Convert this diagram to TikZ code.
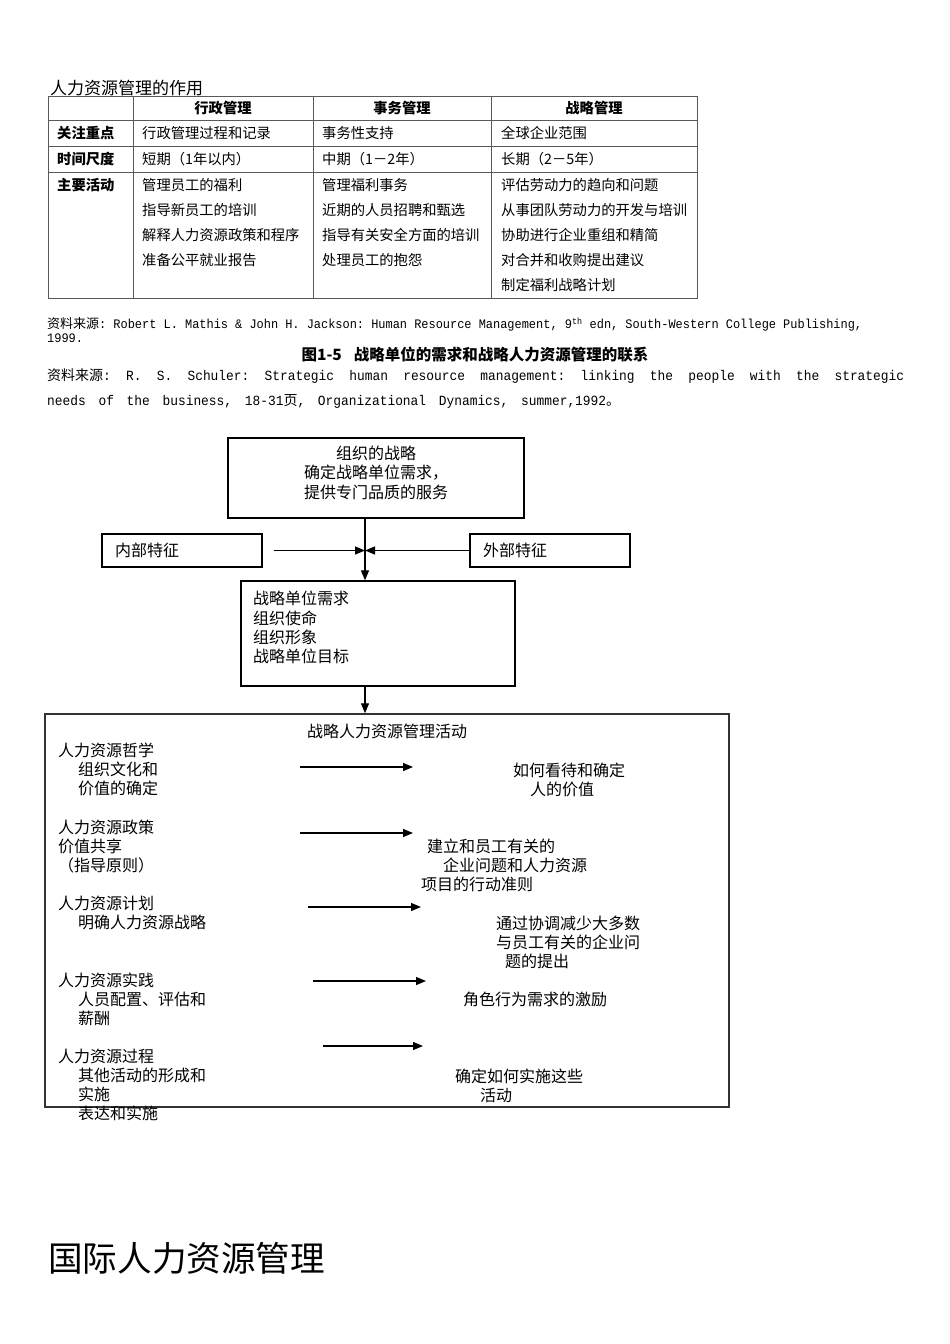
\documentclass[tikz,border=0pt]{standalone}
\usepackage{fontspec}
\setmainfont{Noto Sans CJK SC}
\newfontfamily\srcfont[FakeStretch=0.92]{Liberation Mono}
\usepackage{tikz}
\usetikzlibrary{arrows.meta, positioning}

\begin{document}
\begin{tikzpicture}[
    x=1pt, y=-1pt,
    tabcell/.style = {anchor=base west, inner sep=0pt, font=\fontsize{14.3}{25}\selectfont, text width=190pt, align=left},
    tabhead/.style = {anchor=base, inner sep=0pt, font=\fontsize{14.3}{25}\selectfont\bfseries},
    tabrule/.style = {draw=black!65, line width=1pt},
    flowtext/.style = {anchor=base west, inner sep=0pt, font=\fontsize{16}{19.3}\selectfont, text width=230pt, align=left},
    flowline/.style = {anchor=base, inner sep=0pt, font=\fontsize{16}{19.3}\selectfont},
    flowbox/.style = {rectangle, draw=black, line width=1.3pt, font=\fontsize{16}{19.3}\selectfont},
    flowarrow/.style = {draw=black, line width=1.2pt, -{Triangle[length=10pt, width=8pt]}}
]
\fill[white] (0,0) rectangle (950,1344);
\useasboundingbox (0,0) rectangle (950,1344);

% Table
\node[anchor=base west, inner sep=0pt, font=\fontsize{17}{20}\selectfont] (tabtitle) at (50,94) {人力资源管理的作用};
\draw[tabrule] (48,96) rectangle (697,298);
\foreach \y in {120,146,172} \draw[tabrule] (48,\y) -- (697,\y);
\foreach \x in {133,313,491} \draw[tabrule] (\x,96) -- (\x,298);

\node[tabhead] (headadmin) at (223,113.4) {行政管理};
\node[tabhead] (headaffair) at (402,113.4) {事务管理};
\node[tabhead] (headstrat) at (594,113.4) {战略管理};

\node[tabhead, anchor=base west] (rowfocus) at (57,138.4) {关注重点};
\node[tabhead, anchor=base west] (rowtime) at (57,164.4) {时间尺度};
\node[tabhead, anchor=base west] (rowact) at (57,190.4) {主要活动};

\node[tabcell] (focusadmin) at (142,138.4) {行政管理过程和记录};
\node[tabcell] (focusaffair) at (322,138.4) {事务性支持};
\node[tabcell] (focusstrat) at (501,138.4) {全球企业范围};

\node[tabcell] (timeadmin) at (142,164.4) {短期（1年以内）};
\node[tabcell] (timeaffair) at (322,164.4) {中期（1－2年）};
\node[tabcell] (timestrat) at (501,164.4) {长期（2－5年）};

\node[tabcell] (actadmin) at (142,190.4) {管理员工的福利\\指导新员工的培训\\解释人力资源政策和程序\\准备公平就业报告};
\node[tabcell] (actaffair) at (322,190.4) {管理福利事务\\近期的人员招聘和甄选\\指导有关安全方面的培训\\处理员工的抱怨};
\node[tabcell] (actstrat) at (501,190.4) {评估劳动力的趋向和问题\\从事团队劳动力的开发与培训\\协助进行企业重组和精简\\对合并和收购提出建议\\制定福利战略计划};

% Sources and caption
\node[anchor=base west, inner sep=0pt, font=\fontsize{13}{14}\selectfont] (sourceone) at (47,328.5) {\hbox to 815pt{资料来源{\srcfont\frenchspacing\spaceskip=7pt plus 1fil\relax: Robert L. Mathis \& John H. Jackson: Human Resource Management, 9\textsuperscript{th} edn, South-Western College Publishing,}}};
\node[anchor=base west, inner sep=0pt, font=\fontsize{13}{14}\selectfont] (sourceyear) at (47,342.5) {\srcfont 1999.};
\node[anchor=base, inner sep=0pt, font=\fontsize{15.5}{18}\selectfont\bfseries] (figcaption) at (475,360) {图1-5\hspace{12pt}战略单位的需求和战略人力资源管理的联系};
\node[anchor=base west, inner sep=0pt, font=\fontsize{14}{25}\selectfont] (sourcetwo) at (47,380.3) {\hbox to 857pt{资料来源{\srcfont\frenchspacing\spaceskip=7.7pt plus 1fil\relax: R. S. Schuler: Strategic human resource management: linking the people with the strategic}}};
\node[anchor=base west, inner sep=0pt, font=\fontsize{14}{25}\selectfont] (sourcethree) at (47,405.3) {\hbox to 573pt{{\srcfont\frenchspacing\spaceskip=7.7pt plus 1fil\relax needs of the business, 18-31}页{\srcfont\frenchspacing\spaceskip=7.7pt plus 1fil\relax, Organizational Dynamics, summer,1992}。}};

% Boxes
\node[flowbox, minimum width=296pt, minimum height=80pt] (strategy) at (376,478) {\begin{tabular}{@{}c@{}}组织的战略\\确定战略单位需求，\\提供专门品质的服务\\[6pt]\end{tabular}};
\node[flowbox, minimum width=160pt, minimum height=33pt, text width=134pt, align=left] (internal) at (182,550.5) {内部特征};
\node[flowbox, minimum width=160pt, minimum height=33pt, text width=134pt, align=left] (external) at (550,550.5) {外部特征};
\node[flowbox, minimum width=274pt, minimum height=105pt, text width=250pt, align=left] (needs) at (378,633.5) {\begin{tabular}{@{}l@{}}战略单位需求\\组织使命\\组织形象\\战略单位目标\\[7pt]\end{tabular}};
\node[flowbox, draw=black!80, line width=1.5pt, minimum width=684pt, minimum height=393pt] (activities) at (387,910.5) {};
\coordinate (meet) at (365,550.5);

% Connectors
\draw[flowarrow] ([xshift=11pt]internal.east) -- (meet);
\draw[flowarrow] (external.west) -- (meet);
\draw[flowarrow] (strategy.south -| meet) -- (needs.north -| meet);
\draw[flowarrow] (needs.south -| meet) -- (activities.north -| meet);

% Activities
\node[flowline] (acttitle) at (387,737) {战略人力资源管理活动};
\node[flowtext] (philosophy) at (58,756) {人力资源哲学\\\hspace*{20pt}组织文化和\\\hspace*{20pt}价值的确定};
\node[flowtext] (policy) at (58,833) {人力资源政策\\价值共享\\（指导原则）};
\node[flowtext] (planning) at (58,909) {人力资源计划\\\hspace*{20pt}明确人力资源战略};
\node[flowtext] (practice) at (58,986) {人力资源实践\\\hspace*{20pt}人员配置、评估和\\\hspace*{20pt}薪酬};
\node[flowtext] (process) at (58,1062) {人力资源过程\\\hspace*{20pt}其他活动的形成和\\\hspace*{20pt}实施\\\hspace*{20pt}表达和实施};

\node[flowtext] (valueview) at (513,776) {如何看待和确定\\\hspace*{17pt}人的价值};
\node[flowtext] (guideline) at (421,852) {\hspace*{6pt}建立和员工有关的\\\hspace*{22pt}企业问题和人力资源\\项目的行动准则};
\node[flowtext] (coordinate) at (496,929) {通过协调减少大多数\\与员工有关的企业问\\\hspace*{9pt}题的提出};
\node[flowtext] (motivation) at (463,1005) {角色行为需求的激励};
\node[flowtext] (implement) at (455,1082) {确定如何实施这些\\\hspace*{25pt}活动};

\foreach \i/\y/\xa/\xb in {1/767/300/413, 2/833/300/413, 3/907/308/421, 4/981/313/426, 5/1046/323/423} {
    \coordinate (from\i) at (\xa,\y);
    \coordinate (to\i) at (\xb,\y);
    \draw[flowarrow] (from\i) -- (to\i);
}

% Heading
\node[anchor=base west, inner sep=0pt, font=\fontsize{34.6}{40}\selectfont] (chapter) at (48,1271) {国际人力资源管理};

\end{tikzpicture}
\end{document}
